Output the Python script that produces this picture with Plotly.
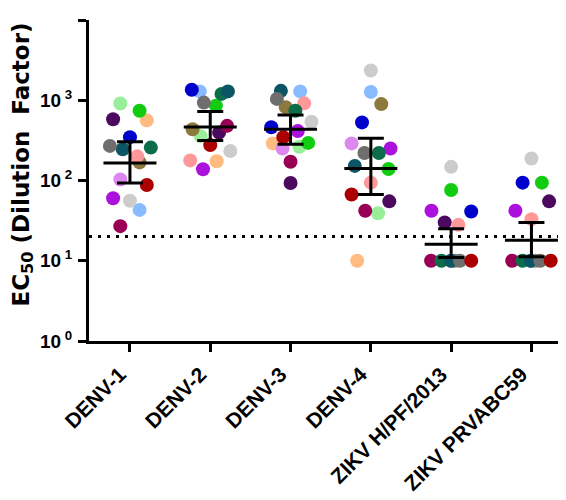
import plotly.graph_objects as go

categories = ["DENV-1", "DENV-2", "DENV-3", "DENV-4", "ZIKV H/PF/2013", "ZIKV PRVABC59"]

# subjects (draw order) and their colours
subject_colors = [
    "#99ef99",  # light green
    "#ffbb80",  # peach
    "#8b7a3c",  # olive
    "#dd88ee",  # lavender
    "#88bbff",  # light blue
    "#cccccc",  # light gray
    "#11cc11",  # green
    "#0000cc",  # blue
    "#aa11dd",  # purple
    "#4b0a5e",  # dark purple
    "#ff9999",  # salmon
    "#990055",  # maroon
    "#0c6e48",  # dark green
    "#0b5565",  # dark teal
    "#6e6e6e",  # gray
    "#aa0000",  # dark red
]

# EC50 per subject for each virus (None = not shown)
denv1 = [912, 562, 168, 103, 43, 56, 741, 347, 60, 580, 200, 27, 257, 245, 270, 88]
denv2 = [357, 174, 435, None, 1290, 233, 855, 1350, 138, 395, 178, 480, 1200, 1290, 935, 276]
denv3 = [263, 290, 820, 251, 1290, 540, 294, 460, 413, 93, 915, 171, 740, 1310, 1040, 347]
denv4 = [39, 10, 895, 290, 1270, 2350, 139, 530, 251, 55, 94, 42, 220, 152, 220, 67]
zikv_hpf = [10, 10, 10, 10, 10, 148, 76, 41, 42, 30, 28, 10, 10, 10, 10, 10]
zikv_prv = [10, 10, 10, 10, 10, 188, 94, 94, 42, 55, 33, 10, 10, 10, 10, 10]

# horizontal scatter of the dots within each column (category units)
off1 = [-0.12, 0.21, 0.12, -0.12, 0.12, 0.0, 0.12, 0.0, -0.21, -0.21, 0.09, -0.12, 0.26, -0.09, -0.25, 0.21]
off2 = [-0.12, 0.08, -0.22, 0.0, -0.13, 0.25, 0.07, -0.23, -0.09, 0.11, -0.25, 0.21, 0.14, 0.22, -0.08, 0.0]
off3 = [0.11, -0.22, -0.06, -0.10, 0.12, 0.26, 0.22, -0.24, 0.09, 0.0, 0.17, 0.0, 0.06, -0.12, -0.17, -0.09]
off4 = [0.09, -0.17, 0.13, -0.24, 0.0, 0.0, 0.22, -0.11, 0.245, 0.23, 0.0, -0.07, 0.10, -0.20, -0.08, -0.24]
off5 = [0.0, 0.0, 0.05, 0.0, 0.0, 0.0, 0.0, 0.25, -0.245, -0.08, 0.09, -0.25, -0.12, 0.0, 0.11, 0.25]
off6 = [0.0, 0.0, 0.05, 0.0, 0.0, 0.0, 0.13, -0.11, -0.20, 0.22, 0.0, -0.24, -0.11, -0.01, 0.11, 0.24]

# geometric mean and 95% CI
gmean = [165, 464, 435, 141, 16, 18]
ci_upper = [305, 722, 656, 335, 25, 30]
ci_lower = [93, 314, 283, 67, 11, 11.2]

cutoff = 20

groups = [denv1, denv2, denv3, denv4, zikv_hpf, zikv_prv]
offsets = [off1, off2, off3, off4, off5, off6]

fig = go.Figure()

for gi, (vals, offs) in enumerate(zip(groups, offsets)):
    xs, ys, cs = [], [], []
    for v, o, c in zip(vals, offs, subject_colors):
        if v is None:
            continue
        xs.append(gi + o)
        ys.append(v)
        cs.append(c)
    fig.add_trace(go.Scatter(
        x=xs, y=ys, mode="markers",
        marker=dict(size=14, color=cs, line=dict(width=0)),
        showlegend=False, hoverinfo="y", cliponaxis=False,
    ))

# mean lines
mx, my = [], []
for i, m in enumerate(gmean):
    mx += [i - 0.33, i + 0.33, None]
    my += [m, m, None]
fig.add_trace(go.Scatter(x=mx, y=my, mode="lines",
                         line=dict(color="black", width=3),
                         showlegend=False, hoverinfo="skip"))

# CI error bars
fig.add_trace(go.Scatter(
    x=list(range(len(categories))), y=gmean, mode="markers",
    marker=dict(size=1, color="rgba(0,0,0,0)"),
    error_y=dict(type="data", symmetric=False,
                 array=[u - m for u, m in zip(ci_upper, gmean)],
                 arrayminus=[m - l for l, m in zip(ci_lower, gmean)],
                 color="black", thickness=3, width=13),
    showlegend=False, hoverinfo="skip",
))

fig.add_shape(type="line", xref="paper", yref="y", x0=0, x1=1, y0=cutoff, y1=cutoff,
              line=dict(color="black", width=3, dash="3px,6px"))

font_family = "Liberation Sans, Arial, sans-serif"
title_family = "DejaVu Sans, Liberation Sans, sans-serif"

fig.add_annotation(
    text="EC<sub>50</sub>\u00a0(Dilution\u00a0\u00a0Factor)",
    xref="paper", yref="paper", x=-0.136, y=0.55,
    xanchor="center", yanchor="middle", textangle=-90, showarrow=False,
    font=dict(size=23, weight="bold", family=title_family, color="black"),
)

fig.update_layout(
    width=566, height=500,
    margin=dict(l=81, r=0, t=12, b=167),
    plot_bgcolor="white", paper_bgcolor="white",
    font=dict(family=font_family, color="black"),
    xaxis=dict(
        range=[-0.51, 5.53],
        tickmode="array", tickvals=list(range(len(categories))), ticktext=categories,
        tickangle=-45,
        tickfont=dict(size=21, weight="bold", family=font_family),
        ticklabelstandoff=2, ticklabelshift=-10,
        showline=True, linecolor="black", linewidth=3,
        ticks="outside", ticklen=8, tickwidth=3, tickcolor="black",
        showgrid=False, zeroline=False,
    ),
    yaxis=dict(
        type="log", range=[0, 4],
        tickmode="array", tickvals=[1, 10, 100, 1000, 10000],
        ticktext=["10<sup>\u00a00</sup>", "10<sup>\u00a01</sup>", "10<sup>\u00a02</sup>",
                  "10<sup>\u00a03</sup>", "10<sup>\u00a04</sup>"],
        tickfont=dict(size=19, weight="bold", family=font_family),
        ticklabelstandoff=2,
        showline=True, linecolor="black", linewidth=3,
        ticks="outside", ticklen=8, tickwidth=3, tickcolor="black",
        showgrid=False, zeroline=False,
    ),
)

fig.write_html("out.html")
